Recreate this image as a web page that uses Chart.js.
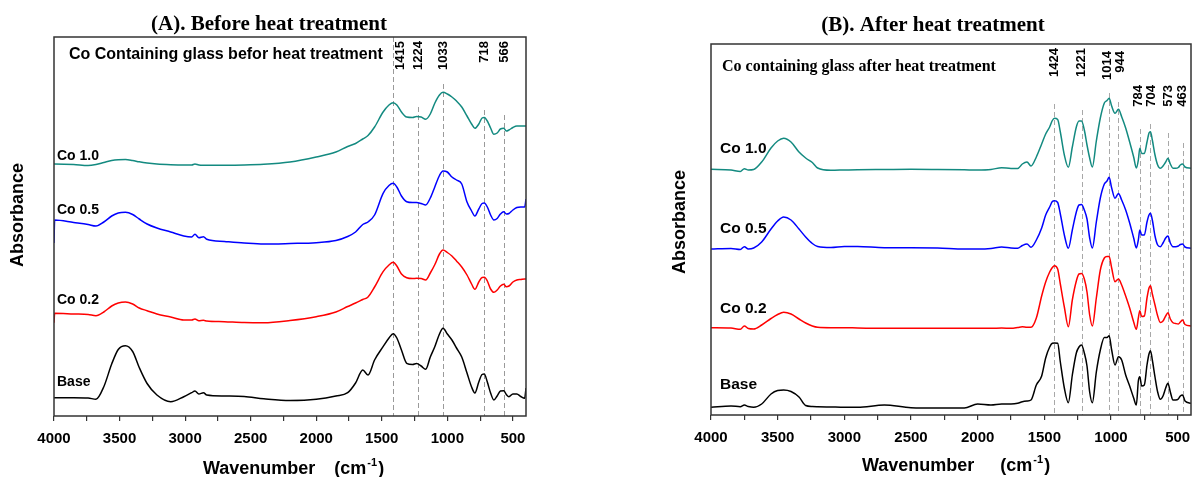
<!DOCTYPE html>
<html>
<head>
<meta charset="utf-8">
<script src="https://cdn.jsdelivr.net/npm/chart.js@4.4.1/dist/chart.umd.min.js"></script>
<style>
  html, body { margin: 0; padding: 0; background: #fff; }
  #wrap { position: relative; width: 1197px; height: 477px; overflow: hidden; }
  canvas { position: absolute; top: 0; }
</style>
</head>
<body>
<div id="wrap">
  <canvas id="chartA" width="600" height="477" style="left:0px"></canvas>
  <canvas id="chartB" width="597" height="477" style="left:600px"></canvas>
</div>
<script>
// ---- (A) before heat treatment, absorbance in arbitrary units (offset stacked)
const waveA = [4000, 3995, 3850, 3740, 3680, 3620, 3560, 3510, 3455, 3400, 3350, 3290, 3215, 3110, 3010, 2950, 2925,
  2895, 2860, 2835, 2700, 2550, 2400, 2200, 2000, 1850, 1760, 1700, 1645, 1605, 1555, 1490, 1445, 1413, 1385,
  1350, 1310, 1265, 1235, 1200, 1165, 1130, 1095, 1060, 1033, 1000, 965, 930, 890, 850, 815, 790, 760, 735,
  718, 695, 670, 645, 620, 595, 570, 550, 530, 500, 470, 440, 410, 400];
const co10A = [252, 252, 251.5, 250.5, 251.5, 253.5, 255.5, 256.3, 256.5, 255.5, 254.2, 253, 252, 251.3, 251, 251, 252,
  251, 250.8, 250.8, 250.8, 251, 251.7, 254, 259, 264, 269.5, 272.5, 277, 280.5, 289, 304, 311, 313.3, 311,
  304, 299, 298.5, 299.5, 299, 296.7, 302, 313, 321, 323.7, 322, 319, 315, 309, 300, 292, 287.7, 292, 298,
  298.5, 295, 288, 281.7, 283, 287, 287.7, 285, 286, 288.5, 290, 290, 290, 290];
const co05A = [173, 196, 193.5, 191.5, 190, 194, 200, 203, 203.7, 201.5, 197, 192, 188, 184, 180, 179, 181.7,
  178.3, 179.3, 176.7, 174.5, 173, 172, 172.5, 173.3, 175.5, 179.5, 184, 191.5, 194, 201, 222.7, 230.5, 232.7, 229,
  220, 214.3, 213.5, 213.5, 212.5, 211, 218, 229.3, 240.5, 245, 244, 239, 236, 232, 214, 205, 200, 207, 212.5,
  213, 209, 201, 196, 197.5, 202, 204.3, 202, 202.5, 206, 208.5, 209, 209, 217];
const co02A = [93.3, 102.7, 102, 101.5, 100.3, 104, 110, 113, 114, 112, 108, 105.3, 102, 99, 96, 96, 97,
  95.3, 95.7, 95, 94.3, 93.5, 93.3, 95.5, 99.3, 104, 109.5, 113, 116.5, 119, 129, 144.3, 151, 153.7, 150,
  142, 138.3, 137.5, 137.7, 137.5, 136, 143, 151.5, 162, 166, 163.5, 160, 155, 149, 141, 132, 126.7, 134, 138.5,
  138.7, 135, 127, 123.7, 126, 130, 131.7, 129.3, 130, 134, 136, 136.5, 137, 137];
const baseA = [18.3, 18.3, 18.3, 18, 16.7, 29.3, 52, 66.5, 70.3, 64.5, 48.5, 32.5, 21, 14.3, 19.3, 23.3, 25,
  22, 23.3, 21, 20, 19.5, 17.3, 15.5, 16.7, 20, 23.3, 33, 46, 41, 56, 69.3, 78, 82.3, 78,
  66, 52.7, 51.5, 52.5, 50, 46.7, 59, 69.5, 82, 87.7, 82, 76, 68, 59, 43, 29, 23, 34, 41.5,
  42, 34, 23, 16, 20, 25, 25.3, 21.5, 19.3, 22, 22, 19.5, 17.7, 28];

// ---- (B) after heat treatment
const waveB = [4000, 3850, 3780, 3750, 3720, 3680, 3620, 3550, 3500, 3455, 3400, 3340, 3290, 3240, 3200, 3100,
  3000, 2900, 2700, 2500, 2300, 2100, 2000, 1900, 1820, 1750, 1700, 1665, 1630, 1600, 1560, 1520, 1490, 1460,
  1440, 1424, 1400, 1380, 1350, 1320, 1290, 1260, 1240, 1221, 1200, 1180, 1160, 1140, 1110, 1080, 1050, 1030,
  1014, 995, 970, 944, 920, 890, 860, 830, 810, 795, 784, 770, 750, 730, 715, 704, 690, 670, 650, 630, 610,
  590, 573, 555, 535, 515, 495, 480, 463, 445, 400];
const co10B = [245.7, 245, 243.5, 246.3, 245, 245.5, 253, 267, 274, 276.7, 273, 263, 257, 252.5, 247, 244.7,
  245, 245.3, 245.5, 245.7, 245.5, 245.2, 245, 245.5, 247.3, 246.5, 246.5, 251, 253, 249, 258, 271, 281, 288,
  294.5, 296.7, 295.5, 283, 260, 247.7, 268, 288, 294, 294, 285, 270, 257, 248, 274, 297, 312, 314.5,
  316.7, 309, 301.7, 305.7, 298.3, 287, 273, 258, 247, 255, 266.7, 261.5, 261.5, 273, 282, 283.3, 275, 260, 250, 246.7, 249,
  253, 256.7, 251, 246.7, 246.7, 247.5, 250, 251, 248, 246.7];
const co05B = [166, 166.5, 165.5, 168.3, 166, 167, 173, 186, 194, 198, 195, 186, 178, 171.5, 168.5, 167.5,
  168.5, 168.5, 167.3, 167.3, 167, 166, 166, 166.5, 168, 167, 166.7, 169.5, 171, 167.7, 175, 187, 200, 208,
  213.5, 214.3, 212.5, 201, 180, 166.7, 185, 203, 210, 210.5, 205, 196, 177, 167, 193, 217, 231, 234,
  237.7, 227, 216.7, 221.5, 215, 205, 192, 177, 167, 175, 185, 180, 180, 193, 200, 201.7, 195, 179, 170, 168.3, 172,
  177, 179, 172, 168.3, 168.3, 169, 170.5, 171, 168, 166.7];
const co02B = [87.3, 87, 85.7, 89, 86.5, 86, 90, 96.5, 100.5, 102.7, 101, 96, 92, 89, 87.7, 87.3,
  87.3, 87, 86.7, 86.7, 86.7, 86.7, 86.7, 86.7, 87, 86.7, 87.5, 88.3, 87.7, 87.7, 97, 119, 133, 143,
  147.5, 149.3, 146, 131, 108, 88.3, 115, 134, 141, 141.5, 136, 123, 100, 89, 117, 145, 157, 158.5,
  158.5, 147, 133.3, 136, 130, 119, 107, 93, 85.7, 97, 104.3, 98.5, 99, 117, 127, 129.3, 121, 110, 99, 92.5, 94,
  99, 102.3, 96, 92.3, 91.5, 91, 93, 95, 90.5, 89];
const baseB = [7.7, 9, 8.3, 10, 8.5, 7.7, 11, 21, 24.5, 25, 23.5, 18, 9.5, 8.5, 8.3, 8,
  7.7, 7.7, 10, 7.3, 7, 7, 11, 10, 11, 11, 11.7, 13.3, 14, 15, 30, 39, 57, 68,
  71.7, 72, 71.7, 53, 27, 12.3, 40, 62, 68, 70, 62, 49, 23, 12.3, 43, 65, 77.5, 77.5,
  79.3, 65, 50, 58.3, 55, 40, 29, 17, 10, 34, 38.3, 29, 30, 50, 61, 64.3, 55, 38, 23, 15.7, 19,
  27, 31.7, 23, 15, 15, 16, 19, 20, 14, 11.7];

const seriesNames = ["Base", "Co 0.2", "Co 0.5", "Co 1.0"];
const seriesColors = ["#000000", "#ff0000", "#0000ff", "#138a80"];
const tickMarks = [500, 750, 1000, 1250, 1500, 1750, 2000, 2250, 2500, 2750, 3000, 3250, 3500, 3750, 4000];
const tickLabels = [500, 1000, 1500, 2000, 2500, 3000, 3500, 4000];
const peaksA = [1415, 1224, 1033, 718, 566];
const peaksB = [1424, 1221, 1014, 944, 784, 704, 573, 463];

const SANS = "'Liberation Sans', Arial, sans-serif";
const SERIF = "'Liberation Serif', 'Times New Roman', serif";

// layout of each panel, in page pixels
const panels = [
    {
        canvas: "chartA", offsetX: 0, width: 600,
        area: { left: 54, top: 37, right: 526, bottom: 416 },
        wave: waveA, series: [baseA, co02A, co05A, co10A], yMax: 379,
        peaks: peaksA, markTop: [37, 107, 84, 110, 115], markLabelTop: [41, 41, 41, 41, 41],
        markLabelDx: [7, 0, 0, 0, 0], markFont: `bold 13px ${SANS}`, markColor: "#9a9a9a",
        title: "(A). Before heat treatment", titleX: 269, titleY: 30,
        note: "Co Containing glass befor heat treatment", noteFont: `bold 16px ${SANS}`, noteX: 69, noteY: 59,
        labelX: 57, labelY: [386, 304, 214, 159.5], labelFont: `bold 14px ${SANS}`,
        xTitleX: 203, xTitleY: 474, xTitleGap: 19,
        yTitleX: 18, yTitleY: 215,
    },
    {
        canvas: "chartB", offsetX: 600, width: 597,
        area: { left: 711, top: 44, right: 1191, bottom: 415 },
        wave: waveB, series: [baseB, co02B, co05B, co10B], yMax: 371,
        peaks: peaksB, markTop: [104, 110, 93, 102, 129, 124, 133, 143],
        markLabelTop: [48, 48, 51, 51, 85, 85, 85, 85],
        markLabelDx: [0, 0, -2, 1.5, -1.5, 1, 0, 0], markFont: `bold 13px ${SANS}`, markColor: "#a8a8a8",
        title: "(B). After heat treatment", titleX: 933, titleY: 30.5,
        note: "Co containing glass after heat treatment", noteFont: `bold 16px ${SERIF}`, noteX: 722, noteY: 71,
        labelX: 720, labelY: [389.3, 313.3, 233.3, 152.7], labelFont: `bold 15.5px ${SANS}`,
        xTitleX: 862, xTitleY: 471, xTitleGap: 26,
        yTitleX: 680, yTitleY: 222,
    },
];

function drawXTitle(ctx, x0, y, gap) {
    const size = 18;
    ctx.font = `bold ${size}px ${SANS}`;
    ctx.textAlign = "left";
    ctx.textBaseline = "alphabetic";
    ctx.fillText("Wavenumber", x0, y);
    let x = x0 + ctx.measureText("Wavenumber").width + gap;
    ctx.fillText("(cm", x, y);
    x += ctx.measureText("(cm").width + 1;
    ctx.font = `bold 11px ${SANS}`;
    ctx.fillText("-1", x, y - 8);
    x += ctx.measureText("-1").width + 1;
    ctx.font = `bold ${size}px ${SANS}`;
    ctx.fillText(")", x, y);
}

function decorPlugin(p) {
    const ox = p.offsetX;
    return {
        id: "panelDecor",
        beforeDatasetsDraw(chart) {
            const { ctx, chartArea, scales } = chart;
            ctx.save();
            ctx.strokeStyle = p.markColor;
            ctx.lineWidth = 1;
            ctx.setLineDash([5, 3]);
            p.peaks.forEach((wn, i) => {
                const px = Math.round(scales.x.getPixelForValue(wn)) + 0.5;
                ctx.beginPath();
                ctx.moveTo(px, p.markTop[i]);
                ctx.lineTo(px, chartArea.bottom);
                ctx.stroke();
            });
            ctx.restore();
        },
        afterDraw(chart) {
            const { ctx, chartArea: a, scales } = chart;
            ctx.save();
            // frame
            ctx.strokeStyle = "#333";
            ctx.lineWidth = 1.5;
            ctx.strokeRect(a.left, a.top, a.right - a.left, a.bottom - a.top);

            ctx.fillStyle = "#000";
            // peak labels, rotated
            p.peaks.forEach((wn, i) => {
                const px = scales.x.getPixelForValue(wn) + p.markLabelDx[i];
                ctx.save();
                ctx.translate(px, p.markLabelTop[i]);
                ctx.rotate(-Math.PI / 2);
                ctx.font = p.markFont;
                ctx.textAlign = "right";
                ctx.textBaseline = "middle";
                ctx.fillText(String(wn), 0, 0);
                ctx.restore();
            });

            // title and note
            ctx.font = `bold 21px ${SERIF}`;
            ctx.textAlign = "center";
            ctx.textBaseline = "alphabetic";
            ctx.fillText(p.title, p.titleX - ox, p.titleY);
            ctx.font = p.noteFont;
            ctx.textAlign = "left";
            ctx.fillText(p.note, p.noteX - ox, p.noteY);

            // series labels
            ctx.font = p.labelFont;
            seriesNames.forEach((name, i) => {
                ctx.fillText(name, p.labelX - ox, p.labelY[i]);
            });

            // axis titles
            drawXTitle(ctx, p.xTitleX - ox, p.xTitleY, p.xTitleGap);
            ctx.save();
            ctx.translate(p.yTitleX - ox, p.yTitleY);
            ctx.rotate(-Math.PI / 2);
            ctx.font = `bold 18px ${SANS}`;
            ctx.textAlign = "center";
            ctx.textBaseline = "middle";
            ctx.fillText("Absorbance", 0, 0);
            ctx.restore();
            ctx.restore();
        },
    };
}

panels.forEach((p) => {
    const canvasH = 477;
    const datasets = p.series.map((vals, i) => ({
        label: seriesNames[i],
        data: p.wave.map((w, j) => ({ x: w, y: vals[j] })),
        borderColor: seriesColors[i],
        borderWidth: 1.5,
        pointRadius: 0,
        fill: false,
        cubicInterpolationMode: "monotone",
    }));

    new Chart(document.getElementById(p.canvas), {
        type: "line",
        data: { datasets },
        options: {
            responsive: false,
            animation: false,
            devicePixelRatio: 1,
            layout: {
                padding: {
                    left: p.area.left - p.offsetX,
                    right: p.width - (p.area.right - p.offsetX),
                    top: p.area.top,
                    bottom: 0,
                },
            },
            plugins: { legend: { display: false }, tooltip: { enabled: false } },
            scales: {
                x: {
                    type: "linear",
                    reverse: true,
                    min: 400,
                    max: 4000,
                    afterBuildTicks: (s) => {
                        s.ticks = tickMarks.map((v) => ({ value: v }));
                    },
                    afterFit: (s) => {
                        s.height = canvasH - p.area.bottom;
                        s.paddingLeft = 0;
                        s.paddingRight = 0;
                    },
                    ticks: {
                        autoSkip: false,
                        maxRotation: 0,
                        padding: 9,
                        color: "#000",
                        font: { family: SANS, size: 15, weight: "bold" },
                        callback: (v) => (tickLabels.includes(v) ? String(v) : ""),
                    },
                    grid: { drawOnChartArea: false, drawTicks: true, tickLength: 5, color: "#333", lineWidth: 1.2 },
                    border: { display: false },
                },
                y: { display: false, min: 0, max: p.yMax },
            },
        },
        plugins: [decorPlugin(p)],
    });
});
</script>
</body>
</html>
